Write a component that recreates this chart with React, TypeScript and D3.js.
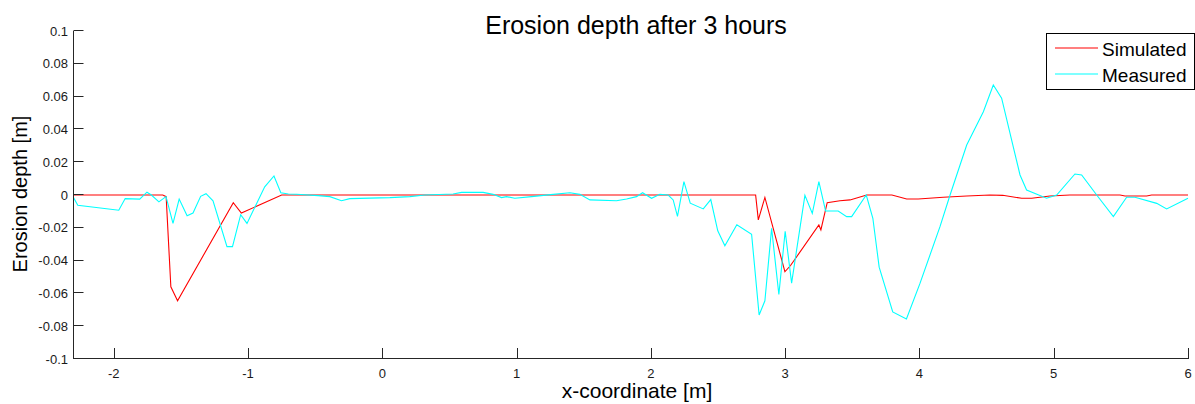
import React from "react";
import * as d3 from "d3";

// Simulated erosion depth profile (x in m, depth in m)
const simX = [-2.31, -1.635, -1.61, -1.575, -1.525, -1.11, -1.05, -0.75, 2.78, 2.8, 2.849, 2.998, 3.04, 3.251, 3.266, 3.313, 3.408, 3.483, 3.607, 3.795, 3.905, 3.991, 4.177, 4.352, 4.525, 4.62, 4.761, 4.836, 4.972, 5.121, 5.494, 5.531, 5.692, 5.729, 6.0];
const simY = [0, 0, -0.001, -0.056, -0.0645, -0.0047, -0.011, 0, 0, -0.0152, -0.0015, -0.0468, -0.043, -0.0183, -0.0213, -0.0047, -0.0035, -0.003, 0, 0, -0.0024, -0.0024, -0.0014, -0.0006, 0, -0.0002, -0.002, -0.002, -0.0006, 0, 0, -0.0006, -0.0006, 0, 0];

// Measured erosion depth profile
const measX = [-2.31, -2.268, -1.963, -1.915, -1.807, -1.753, -1.72, -1.664, -1.611, -1.559, -1.513, -1.454, -1.41, -1.353, -1.313, -1.261, -1.157, -1.116, -1.055, -1.008, -0.876, -0.807, -0.756, -0.7, -0.639, -0.478, -0.391, -0.304, -0.242, 0.056, 0.205, 0.317, 0.527, 0.59, 0.751, 0.825, 0.888, 0.925, 0.987, 1.111, 1.272, 1.397, 1.471, 1.546, 1.744, 1.819, 1.893, 1.938, 2.005, 2.067, 2.129, 2.166, 2.198, 2.246, 2.293, 2.39, 2.446, 2.498, 2.551, 2.64, 2.75, 2.806, 2.849, 2.899, 2.953, 3.0, 3.048, 3.147, 3.202, 3.251, 3.301, 3.395, 3.458, 3.495, 3.604, 3.653, 3.7, 3.801, 3.903, 4.004, 4.153, 4.228, 4.352, 4.476, 4.55, 4.612, 4.749, 4.798, 4.947, 5.022, 5.158, 5.208, 5.32, 5.444, 5.543, 5.605, 5.767, 5.841, 6.0];
const measY = [0, -0.0063, -0.0093, -0.0022, -0.0025, 0.0017, 0, -0.0042, -0.001, -0.0173, -0.0025, -0.0126, -0.011, -0.0008, 0.0008, -0.0035, -0.0315, -0.0315, -0.012, -0.0173, 0.005, 0.0116, 0.0014, 0.0006, 0.0005, -0.0004, -0.001, -0.0035, -0.0022, -0.0016, -0.001, 0, 0.0006, 0.0016, 0.0016, 0.0004, -0.0016, -0.001, -0.002, -0.001, 0.0004, 0.0014, 0.0004, -0.003, -0.0035, -0.0024, -0.001, 0.0014, -0.002, 0.0004, 0, -0.003, -0.013, 0.0081, -0.005, -0.0085, -0.0028, -0.0218, -0.031, -0.0181, -0.0239, -0.0732, -0.0645, -0.0203, -0.0607, -0.0221, -0.0537, -0.0002, -0.0112, 0.0081, -0.0097, -0.0098, -0.0132, -0.0132, 0, -0.0142, -0.044, -0.0713, -0.0756, -0.0539, -0.0193, 0, 0.0305, 0.0508, 0.0671, 0.059, 0.0122, 0.003, -0.002, 0, 0.0128, 0.0122, 0, -0.0132, -0.0014, -0.0014, -0.0051, -0.0085, -0.002];

const xTicks = [-2, -1, 0, 1, 2, 3, 4, 5, 6];
const yTicks = [0.1, 0.08, 0.06, 0.04, 0.02, 0, -0.02, -0.04, -0.06, -0.08, -0.1];

const seriesNames = ["Simulated", "Measured"];
const seriesColors = ["#ff0000", "#00ffff"];

const W = 1195;
const H = 404;
const left = 73.5;
const right = 1188;
const top = 31;
const bottom = 359;

const font = "Arial, 'Liberation Sans', Helvetica, sans-serif";
const axisColor = "#262626";

export default function App() {
  const x = d3.scaleLinear().domain([-2.3, 6]).range([left, right]);
  const y = d3.scaleLinear().domain([-0.1, 0.1]).range([bottom, top]);

  const line = d3
    .line<[number, number]>()
    .x((d) => x(d[0]))
    .y((d) => y(d[1]));

  const simPts = simX.map((v, i) => [v, simY[i]] as [number, number]);
  const measPts = measX.map((v, i) => [v, measY[i]] as [number, number]);

  const fmtY = (v: number) => (v === 0 ? "0" : String(+v.toFixed(2)));

  const legX = 1046.5;
  const legY = 33.5;

  return (
    <svg
      width={W}
      height={H}
      style={{ position: "absolute", left: 0, top: 0, background: "#fff" }}
      fontFamily={font}
    >
      <rect x={0} y={0} width={W} height={H} fill="#fff" />
      <defs>
        <clipPath id="plotClip">
          <rect x={left} y={top - 2} width={right - left + 1} height={bottom - top + 4} />
        </clipPath>
      </defs>

      {/* data lines */}
      <g clipPath="url(#plotClip)">
        <path d={line(simPts) || ""} fill="none" stroke={seriesColors[0]} strokeWidth={1.1} />
        <path d={line(measPts) || ""} fill="none" stroke={seriesColors[1]} strokeWidth={1.1} />
      </g>

      {/* axes */}
      <line x1={left} x2={left} y1={top} y2={bottom} stroke={axisColor} strokeWidth={1} />
      <line x1={left} x2={right} y1={bottom - 0.5} y2={bottom - 0.5} stroke={axisColor} strokeWidth={1} />

      {yTicks.map((t) => (
        <g key={"y" + t}>
          <line x1={left} x2={left + 10} y1={Math.round(y(t)) - 0.5} y2={Math.round(y(t)) - 0.5} stroke={axisColor} />
          <text x={68} y={y(t) + 4.5} fontSize={13} textAnchor="end" fill="#1a1a1a">
            {fmtY(t)}
          </text>
        </g>
      ))}

      {xTicks.map((t) => (
        <g key={"x" + t}>
          <line x1={Math.round(x(t)) + 0.5} x2={Math.round(x(t)) + 0.5} y1={bottom} y2={bottom - 11} stroke={axisColor} />
          <text x={x(t)} y={377.5} fontSize={13} textAnchor="middle" fill="#1a1a1a">
            {t}
          </text>
        </g>
      ))}

      {/* title and axis labels */}
      <text x={636} y={34} fontSize={25} textAnchor="middle" fill="#000">
        Erosion depth after 3 hours
      </text>
      <text x={637} y={398} fontSize={21} textAnchor="middle" fill="#000">
        x-coordinate [m]
      </text>
      <text
        transform={`translate(27,194) rotate(-90)`}
        fontSize={20}
        textAnchor="middle"
        fill="#000"
      >
        Erosion depth [m]
      </text>

      {/* legend */}
      <rect x={legX} y={legY} width={148} height={56} fill="#fff" stroke="#000" strokeWidth={1} />
      {seriesNames.map((name, i) => (
        <g key={name}>
          <line
            x1={1055}
            x2={1098}
            y1={48 + i * 26}
            y2={48 + i * 26}
            stroke={seriesColors[i]}
            strokeWidth={1.1}
          />
          <text x={1102} y={55.5 + i * 26} fontSize={19} fill="#000">
            {name}
          </text>
        </g>
      ))}
    </svg>
  );
}
